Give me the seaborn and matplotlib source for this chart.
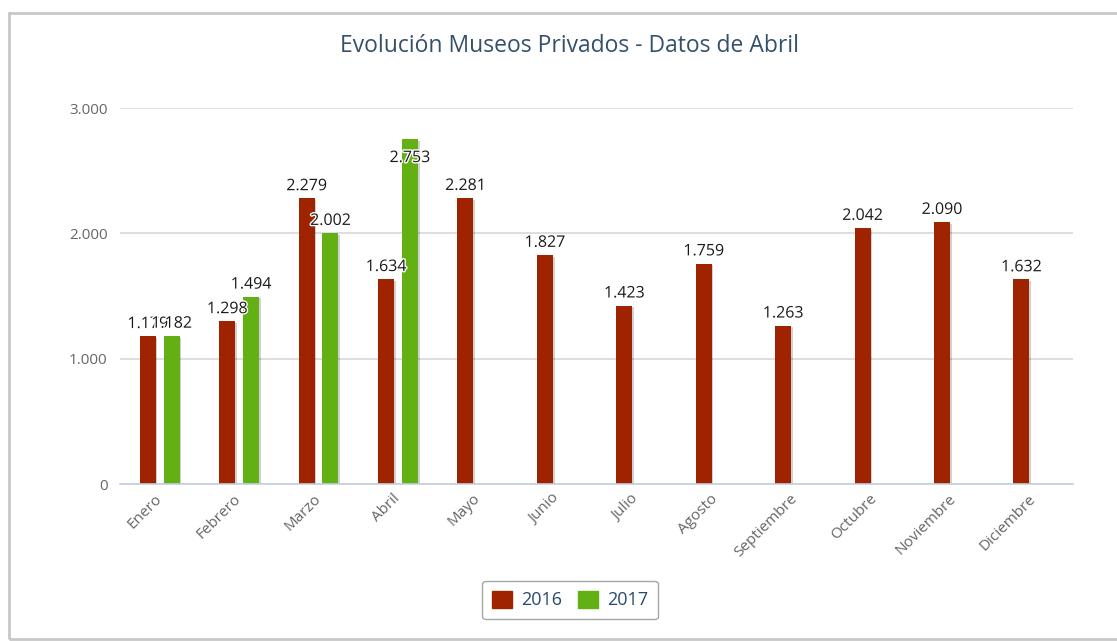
import numpy as np
import pandas as pd
import matplotlib
matplotlib.use("Agg")
import matplotlib.pyplot as plt
import matplotlib.patheffects as pe
from matplotlib.patches import Rectangle, Patch
import seaborn as sns

# Data
months = ['Enero', 'Febrero', 'Marzo', 'Abril', 'Mayo', 'Junio', 'Julio',
          'Agosto', 'Septiembre', 'Octubre', 'Noviembre', 'Diciembre']
visits_2016 = [1179, 1298, 2279, 1634, 2281, 1827, 1423, 1759, 1263, 2042, 2090, 1632]
visits_2017 = [1182, 1494, 2002, 2753]
years = ['2016', '2017']
colors = ['#A02300', '#62B014']
yticks = [0, 1000, 2000, 3000]

# long form table for seaborn
df = pd.concat([
    pd.DataFrame({'mes': months, 'year': '2016', 'visitas': visits_2016}),
    pd.DataFrame({'mes': months[:len(visits_2017)], 'year': '2017', 'visitas': visits_2017}),
], ignore_index=True)


def fmt_es(v):
    return f"{v:,.0f}".replace(',', '.')


sns.set_theme(style='white')
plt.rcParams['font.family'] = ['Open Sans', 'DejaVu Sans']

W, H = 1117, 641
fig = plt.figure(figsize=(W / 100, H / 100), dpi=100)
fig.patch.set_facecolor('white')

# plot area in pixels: x 120..1073, y 108..484
ax = fig.add_axes([120 / W, 1 - 484 / H, (1073 - 120) / W, (484 - 108) / H])

sns.barplot(data=df, x='mes', y='visitas', hue='year', order=months, hue_order=years,
            palette=colors, width=0.6, gap=0.33, saturation=1, errorbar=None,
            legend=False, ax=ax, zorder=3)

shadow = [pe.SimplePatchShadow(offset=(1.2, -1.2), shadow_rgbFace='#000000', alpha=0.18), pe.Normal()]
for p in ax.patches:
    p.set_path_effects(shadow)
    p.set_linewidth(0)

# data labels (the tallest one sits inside the bar, like the original)
halo = [pe.withStroke(linewidth=2, foreground='white')]
for p in ax.patches:
    h = p.get_height()
    if np.isnan(h) or h == 0:
        continue
    xc = p.get_x() + p.get_width() / 2
    if h > 2700:
        ax.annotate(fmt_es(h), (xc, h), xytext=(0, -8), textcoords='offset points',
                    ha='center', va='top', fontsize=11.5, color='#1a1a1a', zorder=5,
                    path_effects=halo)
    else:
        ax.annotate(fmt_es(h), (xc, h), xytext=(0, 3), textcoords='offset points',
                    ha='center', va='bottom', fontsize=11.5, color='#1a1a1a', zorder=5,
                    path_effects=halo)

ax.set_xlim(-0.5, len(months) - 0.5)
ax.set_ylim(0, 3000)
ax.set_yticks(yticks)
ax.set_yticklabels([fmt_es(v) for v in yticks])
ax.yaxis.grid(True, color='#D8D8D8', linewidth=1.2, zorder=0)
ax.set_axisbelow(True)
ax.set_xlabel('')
ax.set_ylabel('')

for s in ['left', 'right', 'top']:
    ax.spines[s].set_visible(False)
ax.spines['bottom'].set_color('#C0D0E0')
ax.spines['bottom'].set_linewidth(1.2)
ax.spines['bottom'].set_zorder(4)

ax.tick_params(axis='y', length=0, pad=9, labelsize=11, labelcolor='#666666')
ax.tick_params(axis='x', which='major', length=0, pad=9, labelsize=11, labelcolor='#666666')
ax.set_xticks(np.arange(-0.5, len(months), 1), minor=True)
ax.tick_params(axis='x', which='minor', length=4, width=1, color='#C0D0E0', direction='out')
for lab in ax.get_xticklabels():
    lab.set_rotation(45)
    lab.set_ha('right')
    lab.set_va('center')
    lab.set_rotation_mode('anchor')

fig.text(569 / W, 1 - 46 / H, 'Evolución Museos Privados - Datos de Abril',
         ha='center', va='center', fontsize=16.5, color='#34506B')

handles = [Patch(facecolor=c, edgecolor=c, label=y) for c, y in zip(colors, years)]
leg = fig.legend(handles=handles, loc='center', bbox_to_anchor=(570 / W, 1 - 600 / H),
                 ncol=2, frameon=True, fontsize=13, handlelength=1.1, handleheight=1.1,
                 handletextpad=0.5, columnspacing=0.9, borderpad=0.55, fancybox=True)
leg.get_frame().set_edgecolor('#909090')
leg.get_frame().set_linewidth(1)
for t in leg.get_texts():
    t.set_color('#274B6D')

# outer chart border
fig.patches.append(Rectangle((9 / W, 1 - 639 / H), 1.2, (639 - 13) / H,
                             transform=fig.transFigure, fill=False,
                             edgecolor='#C8C8C8', linewidth=2, zorder=0))

fig.savefig('out.png', dpi=100)
